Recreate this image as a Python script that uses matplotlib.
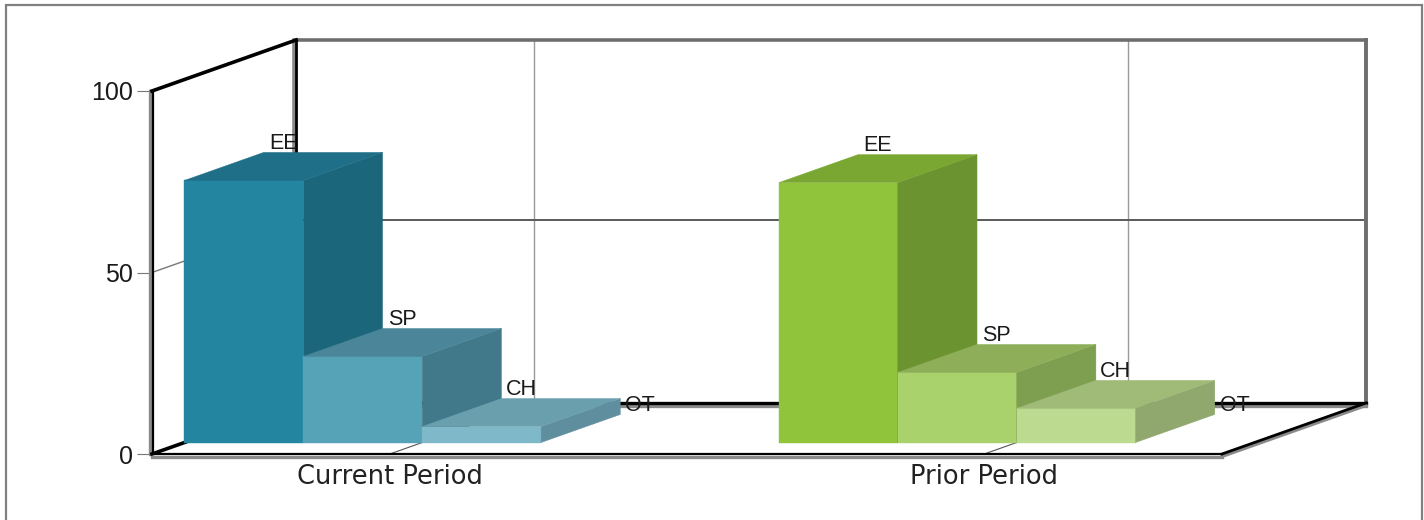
import matplotlib
matplotlib.use('Agg')
import matplotlib.pyplot as plt
from matplotlib.patches import Rectangle

# Data
periods = ['Current Period', 'Prior Period']
codes = ['EE', 'SP', 'CH', 'OT']
current = [72.2, 23.7, 4.4, 0]
prior = [71.6, 19.3, 9.4, 0]
yticks = [0, 50, 100]

# face colours per bar: front, top, side
current_colors = [('#23859f', '#1e6f87', '#1c667c'),
                  ('#56a3b8', '#4a8599', '#41798a'),
                  ('#7fb9c9', '#6a9fae', '#5f8f9f'),
                  ('#a6d0dc', '#8ab3bf', '#7ea3af')]
prior_colors = [('#90c43b', '#7aa732', '#6b9330'),
                ('#a9d16c', '#8fae5a', '#7f9f50'),
                ('#bcdb91', '#a0ba78', '#90a86e'),
                ('#d3e8b6', '#b7cc9b', '#a7bb8c')]

# Oblique projection, depth goes from 0 (front) to 1 (back wall)
X_DEPTH = 144 / 594
Y_DEPTH = 51 / 3.63
BAR_FRONT = 0.225
BAR_BACK = 0.775
BAR_MID = 0.5
BAR_WIDTH = 0.2


def project(x, v, d):
    return x + d * X_DEPTH, v + d * Y_DEPTH


def line3d(ax, p0, p1, **kw):
    x0, y0 = project(*p0)
    x1, y1 = project(*p1)
    ax.plot([x0, x1], [y0, y1], clip_on=False, solid_capstyle='projecting', **kw)


def bar3d(ax, x, h, colors):
    front, top, side = colors
    x2 = x + BAR_WIDTH
    faces = [
        (front, [(x, 0, BAR_FRONT), (x2, 0, BAR_FRONT), (x2, h, BAR_FRONT), (x, h, BAR_FRONT)]),
        (side, [(x2, 0, BAR_FRONT), (x2, 0, BAR_BACK), (x2, h, BAR_BACK), (x2, h, BAR_FRONT)]),
        (top, [(x, h, BAR_FRONT), (x2, h, BAR_FRONT), (x2, h, BAR_BACK), (x, h, BAR_BACK)]),
    ]
    for color, pts in faces:
        xs, ys = zip(*[project(*p) for p in pts])
        ax.fill(xs, ys, color=color, lw=0.3, clip_on=False, zorder=5)


fig = plt.figure(figsize=(14.24, 5.2), dpi=100)
fig.patches.append(Rectangle((6 / 1424, -0.05), 1416 / 1424, 1.04, transform=fig.transFigure,
                             fill=False, ec='#808080', lw=1.6))

ax = fig.add_axes([152 / 1424, 66 / 520, 1070 / 1424, 363 / 520])
ax.set_xlim(-0.4, 1.4)
ax.set_ylim(0, 100)
ax.patch.set_alpha(0)
for s in ax.spines.values():
    s.set_visible(False)

# grid on the back wall, floor and side wall
for i in range(len(periods)):
    line3d(ax, (i, 0, 0), (i, 0, 1), color='#555555', lw=0.8, zorder=2)
    line3d(ax, (i, 0, 1), (i, 100, 1), color='#999999', lw=1.0, zorder=2)
line3d(ax, (-0.4, 50, 0), (-0.4, 50, 1), color='#777777', lw=1.0, zorder=2)
line3d(ax, (-0.4, 50.5, 1), (1.4, 50.5, 1), color='#5a5a5a', lw=1.4, zorder=2)
line3d(ax, (-0.4, 100, 1), (1.4, 100, 1), color='#6e6e6e', lw=2.6, zorder=2)
line3d(ax, (1.4, 0, 1), (1.4, 100, 1), color='#6e6e6e', lw=2.8, zorder=2)

# frame, grey line with a black one next to it
off = 0.004
line3d(ax, (-0.4 - off, 0, 0), (-0.4 - off, 100, 0), color='#8a8a8a', lw=2.4, zorder=3)
line3d(ax, (-0.4 + off * 0.4, 0, 0), (-0.4 + off * 0.4, 100, 0), color='black', lw=1.6, zorder=3)
line3d(ax, (-0.4 - off, 0, 1), (-0.4 - off, 100, 1), color='#8a8a8a', lw=2.6, zorder=3)
line3d(ax, (-0.4, 0, 1), (-0.4, 100, 1), color='black', lw=2.0, zorder=3)
line3d(ax, (-0.4, 100, 0), (-0.4, 100, 1), color='black', lw=2.6, zorder=3)
line3d(ax, (-0.4, 0, 0), (-0.4, 0, 1), color='black', lw=2.6, zorder=3)
line3d(ax, (-0.4, -0.7, 0), (1.4, -0.7, 0), color='#8a8a8a', lw=2.4, zorder=3)
line3d(ax, (-0.4, 0, 0), (1.4, 0, 0), color='black', lw=1.6, zorder=3)
line3d(ax, (-0.4, -0.7, 1), (1.4, -0.7, 1), color='#8a8a8a', lw=2.4, zorder=3)
line3d(ax, (-0.4, 0, 1), (1.4, 0, 1), color='black', lw=2.4, zorder=3)
line3d(ax, (1.4, -0.7, 0), (1.4, -0.7, 1), color='#8a8a8a', lw=2.2, zorder=3)
line3d(ax, (1.4, 0, 0), (1.4, 0, 1), color='black', lw=2.0, zorder=3)

# bars
for i, (vals, cols) in enumerate([(current, current_colors), (prior, prior_colors)]):
    for j, h in enumerate(vals):
        x = i - 0.4 + BAR_WIDTH * j
        if h > 0:
            bar3d(ax, x, h, cols[j])
        tx = project(x + BAR_WIDTH / 2, h, BAR_MID)[0]
        ty = project(x, h, BAR_BACK)[1]
        ax.annotate(codes[j], (tx, ty), xytext=(0, -1), textcoords='offset points', ha='center',
                    va='bottom', fontsize=15.5, family='Liberation Sans', color='#1a1a1a',
                    zorder=6, annotation_clip=False)

ax.set_yticks(yticks)
ax.set_yticklabels([str(t) for t in yticks], family='Liberation Sans', fontsize=18, color='#1a1a1a')
ax.tick_params(axis='y', length=11, width=0.8, color='#777777', pad=3)
ax.set_xticks(range(len(periods)))
ax.set_xticklabels(periods, fontsize=18.5, color='#222222')
ax.tick_params(axis='x', length=0, pad=7)

fig.savefig('out.png', dpi=100)
